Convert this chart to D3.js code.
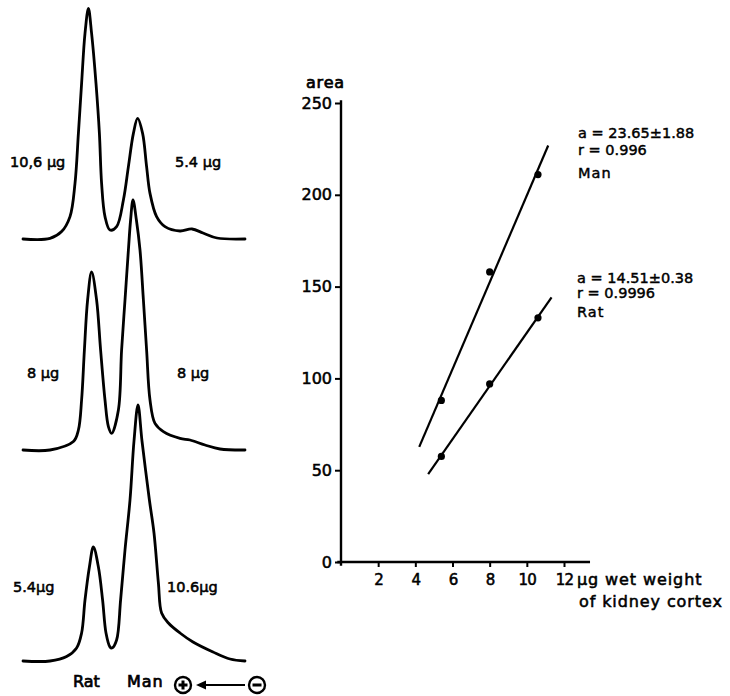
<!DOCTYPE html>
<html>
<head>
<meta charset="utf-8">
<script src="https://cdn.jsdelivr.net/npm/d3@7/dist/d3.min.js"></script>
<style>
  html, body { margin: 0; padding: 0; background: #fff; }
  svg { display: block; }
  text { font-family: "DejaVu Sans", sans-serif; fill: #000; }
</style>
</head>
<body>
<svg id="chart" width="730" height="696"></svg>
<script>
// ---- Densitometer scans (position along strip in mm, pen deflection in mm) ----
const scanTop = [
  [0,0],[13.5,0.3],[19.3,3.7],[23.5,11.2],[26,27.8],[27.7,52.8],[29.3,77.8],[31,102.8],
  [32.7,115.3],[34.3,102.8],[36.5,77.8],[38.2,52.8],[39.3,27.8],[41,11.2],[43.5,4.5],
  [46.8,6.2],[50.2,19.5],[52.7,36.2],[55.2,52.8],[57.3,60.3],[59.8,52.8],[61.8,36.2],
  [63.5,22.8],[66.8,11.2],[71,6.2],[78.5,4],[84.5,5],[90,3],[97,0.5],[111,0]
];
const scanMid = [
  [0,0],[13.5,0],[25.2,4.2],[27.7,10],[29.3,25],[30.7,50],[32.3,75],[34.3,89],[36.8,75],
  [38.8,50],[41,25],[42.7,11.7],[44.3,8.3],[47.7,20],[49.3,50],[51,75],[52.7,100],
  [53.8,115],[55,125],[56.7,115],[58.5,100],[60.2,75],[61.8,50],[63.5,25],[66,13.3],
  [70.2,9.2],[78.5,5.8],[83.5,5],[91,2.5],[98.5,0.5],[111,0]
];
const scanBottom = [
  [0,0],[13.5,0],[21.8,2.2],[26.8,6.5],[29.3,14],[31,30.5],[33.2,47],[35.2,57],[37.7,47],
  [39.8,30.5],[41.5,14],[43.5,7],[44.5,6.5],[46.8,10.5],[48.8,30.5],[51,55.5],[53.5,80.5],
  [55.5,110],[57.5,128],[59.5,110],[63.2,80.5],[65.5,64],[67.7,39],[69.3,24],
  [72.7,19],[78.5,14],[85,9.5],[95,4.5],[103.5,1],[111,0]
];
const scanLoads = [["10,6 µg", "5.4 µg"], ["8 µg", "8 µg"], ["5.4µg", "10.6µg"]];

// ---- Calibration: peak area vs. µg wet weight of kidney cortex ----
const loadsUg = [5.4, 8, 10.6];
const areaMan = [88, 158, 211];
const areaRat = [57.5, 97, 133];
const slopeMan = 23.65, slopeRat = 14.51;
const fitRangeMan = [4.21, 11.15];
const fitRangeRat = [4.69, 11.33];
const xTicks = [2, 4, 6, 8, 10, 12];
const yTicks = [0, 50, 100, 150, 200, 250];
const statsMan = ["a = 23.65±1.88", "r = 0.996", "Man"];
const statsRat = ["a = 14.51±0.38", "r = 0.9996", "Rat"];

const svg = d3.select("#chart");
const INK = 0.55; // outline added to glyphs for a heavier typeface

// ================= left: three scans =================
const xScan = d3.scaleLinear().domain([0, 111]).range([23, 245]);
const scanBaselines = [239, 450, 661];
const scans = [scanTop, scanMid, scanBottom];

scans.forEach((pts, i) => {
  const yScan = d3.scaleLinear().domain([0, 116]).range([scanBaselines[i], scanBaselines[i] - 232]);
  const line = d3.line()
    .x(d => xScan(d[0]))
    .y(d => yScan(d[1]))
    .curve(d3.curveCatmullRom.alpha(0.5));
  svg.append("path")
    .attr("d", line(pts))
    .attr("fill", "none")
    .attr("stroke", "#000")
    .attr("stroke-width", 2.8)
    .attr("stroke-linejoin", "round")
    .attr("stroke-linecap", "round");
});

const loadLabelY = [167, 378, 592];
const loadLabelX = [[10, 175], [27, 177], [13, 167]];
scanLoads.forEach((pair, i) => {
  pair.forEach((t, j) => {
    svg.append("text")
      .attr("x", loadLabelX[i][j])
      .attr("y", loadLabelY[i])
      .attr("font-size", 14.5)
      .attr("stroke", "#000").attr("stroke-width", INK)
      .text(t);
  });
});

// species labels and electrophoresis direction
svg.append("text").attr("x", 73).attr("y", 687).attr("font-size", 16)
  .attr("stroke", "#000").attr("stroke-width", 0.7).text("Rat");
svg.append("text").attr("x", 127).attr("y", 687).attr("font-size", 16)
  .attr("letter-spacing", 1)
  .attr("stroke", "#000").attr("stroke-width", 0.7).text("Man");

const anode = svg.append("g").attr("transform", "translate(183,685)");
anode.append("circle").attr("r", 8).attr("fill", "none").attr("stroke", "#000").attr("stroke-width", 2.4);
anode.append("path").attr("d", "M-4.5,0H4.5M0,-4.5V4.5").attr("stroke", "#000").attr("stroke-width", 3);
const cathode = svg.append("g").attr("transform", "translate(257,685)");
cathode.append("circle").attr("r", 8).attr("fill", "none").attr("stroke", "#000").attr("stroke-width", 2.4);
cathode.append("path").attr("d", "M-4.5,0H4.5").attr("stroke", "#000").attr("stroke-width", 3);
svg.append("path").attr("d", "M245,685H202").attr("stroke", "#000").attr("stroke-width", 2.2);
svg.append("path").attr("d", "M196,685L206,680.5L206,689.5Z").attr("fill", "#000");

// ================= right: calibration plot =================
const x = d3.scaleLinear().domain([0, 12]).range([341, 564]);
const y = d3.scaleLinear().domain([0, 250]).range([562, 103]);

// axis lines
svg.append("line")
  .attr("x1", x(0)).attr("x2", x(0))
  .attr("y1", y(251.5)).attr("y2", y(-2))
  .attr("stroke", "#000").attr("stroke-width", 2.4);
svg.append("line")
  .attr("x1", x(-0.2)).attr("x2", x(13.4))
  .attr("y1", y(0)).attr("y2", y(0))
  .attr("stroke", "#000").attr("stroke-width", 2.4);

const yAxis = svg.append("g")
  .attr("transform", `translate(${x(0)},0)`)
  .call(d3.axisLeft(y).tickValues(yTicks).tickSize(6).tickPadding(3).tickSizeOuter(0));
yAxis.select(".domain").remove();
yAxis.selectAll(".tick line").attr("stroke", "#000").attr("stroke-width", 2);
yAxis.selectAll(".tick text")
  .attr("font-size", 16).attr("font-family", "DejaVu Sans")
  .attr("stroke", "#000").attr("stroke-width", INK);

const xAxis = svg.append("g")
  .attr("transform", `translate(0,${y(0)})`)
  .call(d3.axisBottom(x).tickValues(xTicks).tickSize(5).tickPadding(7).tickSizeOuter(0));
xAxis.select(".domain").remove();
xAxis.selectAll(".tick line").attr("stroke", "#000").attr("stroke-width", 2);
xAxis.selectAll(".tick text")
  .attr("font-size", 15).attr("font-family", "DejaVu Sans")
  .attr("letter-spacing", -0.8)
  .attr("stroke", "#000").attr("stroke-width", INK);

// axis titles
svg.append("text").attr("x", 306).attr("y", 88).attr("font-size", 16)
  .attr("letter-spacing", 0.8)
  .attr("stroke", "#000").attr("stroke-width", 0.7).text("area");
svg.append("text").attr("x", 577).attr("y", 585).attr("font-size", 16)
  .attr("letter-spacing", 0.9)
  .attr("stroke", "#000").attr("stroke-width", INK).text("µg wet weight");
svg.append("text").attr("x", 579).attr("y", 607).attr("font-size", 16)
  .attr("letter-spacing", 0.9)
  .attr("stroke", "#000").attr("stroke-width", INK).text("of kidney cortex");

// regression lines through the mean point with the stated slope
function fitLine(ys, slope, range) {
  const mx = d3.mean(loadsUg), my = d3.mean(ys);
  const f = v => my + slope * (v - mx);
  return range.map(v => [v, f(v)]);
}
const series = [
  { ys: areaMan, slope: slopeMan, range: fitRangeMan },
  { ys: areaRat, slope: slopeRat, range: fitRangeRat }
];
series.forEach(s => {
  const seg = fitLine(s.ys, s.slope, s.range);
  svg.append("line")
    .attr("x1", x(seg[0][0])).attr("y1", y(seg[0][1]))
    .attr("x2", x(seg[1][0])).attr("y2", y(seg[1][1]))
    .attr("stroke", "#000").attr("stroke-width", 2.2);
  svg.selectAll(null)
    .data(loadsUg.map((v, i) => [v, s.ys[i]]))
    .enter().append("circle")
    .attr("cx", d => x(d[0])).attr("cy", d => y(d[1]))
    .attr("r", 3.6).attr("fill", "#000");
});

// regression statistics
const statBlocks = [
  { lines: statsMan, x: 578, ys: [138, 155, 178] },
  { lines: statsRat, x: 577, ys: [283, 298, 317] }
];
statBlocks.forEach(b => {
  b.lines.forEach((t, i) => {
    svg.append("text").attr("x", b.x).attr("y", b.ys[i])
      .attr("font-size", 14.5)
      .attr("letter-spacing", i === 2 ? 1 : 0)
      .attr("stroke", "#000").attr("stroke-width", 0.45)
      .text(t);
  });
});
</script>
</body>
</html>
